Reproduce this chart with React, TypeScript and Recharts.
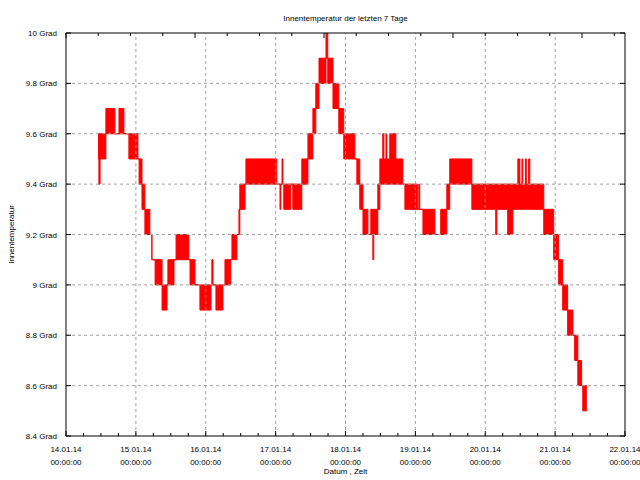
import { Area, ComposedChart, ReferenceLine, XAxis, YAxis } from "recharts";

const FONT = "'Liberation Sans', Arial, sans-serif";

// hours since 14.01.14 00:00:00 where each reading segment starts
const startHours = [
  11.0, 11.3, 11.7, 13.7, 16.8, 18.2, 19.9, 21.6, 24.7, 25.1, 26.1, 27.1, 28.8,
  29.5, 30.6, 33.0, 34.7, 35.0, 37.1, 37.8, 42.2, 42.6, 44.3, 46.0, 49.8, 50.1,
  50.5, 51.5, 53.9, 54.6, 56.6, 57.0, 58.7, 59.4, 59.7, 61.5, 61.8, 72.4, 73.5,
  73.8, 74.2, 74.5, 74.8, 77.2, 77.9, 81.0, 83.1, 84.8, 85.8, 86.9, 89.3, 89.9,
  91.7, 93.7, 95.4, 99.2, 99.9, 100.9, 102.0, 103.7, 104.7, 105.4, 105.7, 107.1,
  107.8, 108.8, 109.2, 109.9, 110.2, 111.2, 113.3, 115.7, 116.4, 120.8, 121.2,
  121.5, 122.6, 126.7, 128.7, 130.8, 131.8, 139.4, 147.6, 148.0, 151.7, 153.5,
  155.2, 155.9, 156.6, 156.9, 157.8, 158.1, 158.9, 159.3, 164.1, 167.5, 169.2,
  170.6, 172.3, 174.1, 174.7, 175.8, 177.1, 177.5, 178.9,
];
// lowest / highest reading in each segment (Grad)
const lows = [
  9.5, 9.4, 9.5, 9.6, 9.6, 9.6, 9.6, 9.5, 9.5, 9.4, 9.3, 9.2, 9.2,
  9.1, 9.0, 8.9, 9.0, 9.0, 9.1, 9.1, 9.1, 9.0, 9.0, 8.9, 9.0, 9.0,
  9.0, 8.9, 9.0, 9.0, 9.1, 9.1, 9.2, 9.2, 9.3, 9.4, 9.4, 9.4, 9.3,
  9.4, 9.4, 9.4, 9.3, 9.4, 9.3, 9.4, 9.5, 9.6, 9.7, 9.8, 9.9, 9.8,
  9.7, 9.6, 9.5, 9.5, 9.4, 9.3, 9.2, 9.2, 9.2, 9.1, 9.2, 9.3,
  9.4, 9.4, 9.4, 9.4, 9.4, 9.4, 9.4, 9.4, 9.3, 9.3, 9.3,
  9.3, 9.2, 9.2, 9.2, 9.3, 9.4, 9.3, 9.2, 9.3, 9.2, 9.3,
  9.3, 9.3, 9.3, 9.3, 9.3, 9.3, 9.3, 9.3, 9.2, 9.1, 9.0,
  8.9, 8.8, 8.8, 8.7, 8.6, 8.6, 8.5, 8.5,
];
const highs = [
  9.6, 9.6, 9.6, 9.7, 9.6, 9.7, 9.6, 9.6, 9.5, 9.5, 9.4, 9.3, 9.2,
  9.1, 9.1, 9.0, 9.0, 9.1, 9.1, 9.2, 9.1, 9.1, 9.0, 9.0, 9.0, 9.1,
  9.0, 9.0, 9.0, 9.1, 9.1, 9.2, 9.2, 9.3, 9.4, 9.4, 9.5, 9.4, 9.4,
  9.4, 9.5, 9.4, 9.4, 9.4, 9.4, 9.5, 9.6, 9.7, 9.8, 9.9, 10.0, 9.9,
  9.8, 9.7, 9.6, 9.5, 9.5, 9.4, 9.3, 9.2, 9.3, 9.3, 9.3, 9.4,
  9.5, 9.6, 9.5, 9.6, 9.5, 9.6, 9.5, 9.4, 9.4, 9.3, 9.4,
  9.3, 9.3, 9.2, 9.3, 9.4, 9.5, 9.4, 9.4, 9.4, 9.4, 9.4,
  9.5, 9.4, 9.5, 9.4, 9.5, 9.4, 9.5, 9.4, 9.3, 9.2, 9.1,
  9.0, 8.9, 8.8, 8.8, 8.7, 8.6, 8.6, 8.6,
];

const hourTicks = [
  0, 6, 12, 18, 24, 30, 36, 42, 48, 54, 60, 66, 72, 78, 84, 90, 96, 102, 108,
  114, 120, 126, 132, 138, 144, 150, 156, 162, 168, 174, 180, 186, 192,
];
const dayTicks = [0, 24, 48, 72, 96, 120, 144, 168, 192];
const dayLabels = [
  "14.01.14", "15.01.14", "16.01.14", "17.01.14", "18.01.14",
  "19.01.14", "20.01.14", "21.01.14", "22.01.14",
];
const tempTicks = [8.4, 8.6, 8.8, 9, 9.2, 9.4, 9.6, 9.8, 10];

const data = startHours.map((t, i) => ({ t, range: [lows[i], highs[i]] }));

const txt = { fontFamily: FONT, fontSize: 8, fill: "#000" };

const BottomTick = ({ x, y, payload }: any) => {
  const idx = dayTicks.indexOf(payload.value);
  return (
    <g>
      <line x1={x} x2={x} y1={y} y2={y - (idx >= 0 ? 5 : 3)} stroke="#000" />
      {idx >= 0 && (
        <>
          <text x={x} y={y + 16} textAnchor="middle" style={txt}>
            {dayLabels[idx]}
          </text>
          <text x={x} y={y + 28.5} textAnchor="middle" style={txt}>
            00:00:00
          </text>
        </>
      )}
    </g>
  );
};

const TopTick = ({ x, y, payload }: any) => {
  const isDay = dayTicks.includes(payload.value);
  return <line x1={x} x2={x} y1={y} y2={y + (isDay ? 5 : 3)} stroke="#000" />;
};

const LeftTick = ({ x, y, payload }: any) => (
  <g>
    <line x1={x} x2={x + 5} y1={y} y2={y} stroke="#000" />
    <text x={x - 9} y={y + 3} textAnchor="end" style={txt}>
      {`${payload.value} Grad`}
    </text>
  </g>
);

const RightTick = ({ x, y }: any) => (
  <line x1={x} x2={x - 5} y1={y} y2={y} stroke="#000" />
);

export default function App() {
  return (
    <div style={{ position: "absolute", left: 0, top: 0, width: 640, height: 480, background: "#fff" }}>
      <ComposedChart
        width={640}
        height={480}
        data={data}
        margin={{ top: 0, right: 0, bottom: 0, left: 0 }}
      >
        <XAxis
          xAxisId="bottom"
          dataKey="t"
          type="number"
          domain={[0, 192]}
          allowDataOverflow
          ticks={hourTicks}
          interval={0}
          height={44}
          tickSize={0}
          tickMargin={0}
          tickLine={false}
          axisLine={{ stroke: "#000" }}
          tick={(p: any) => <BottomTick {...p} />}
          label={{
            content: ({ viewBox }: any) => (
              <text x={viewBox.x + viewBox.width / 2} y={474} textAnchor="middle" style={txt}>
                Datum , Zeit
              </text>
            ),
          }}
        />
        <XAxis
          xAxisId="top"
          orientation="top"
          type="number"
          domain={[0, 192]}
          allowDataOverflow
          ticks={hourTicks}
          interval={0}
          height={33}
          tickSize={0}
          tickMargin={0}
          tickLine={false}
          axisLine={{ stroke: "#000" }}
          tick={(p: any) => <TopTick {...p} />}
          label={{
            content: ({ viewBox }: any) => (
              <text x={viewBox.x + viewBox.width / 2} y={21} textAnchor="middle" style={txt}>
                Innentemperatur der letzten 7 Tage
              </text>
            ),
          }}
        />
        <YAxis
          yAxisId="left"
          type="number"
          domain={[8.4, 10]}
          allowDataOverflow
          ticks={tempTicks}
          interval={0}
          width={66}
          tickSize={0}
          tickMargin={0}
          tickLine={false}
          axisLine={{ stroke: "#000" }}
          tick={(p: any) => <LeftTick {...p} />}
          label={{
            content: ({ viewBox }: any) => {
              const cy = viewBox.y + viewBox.height / 2;
              return (
                <text x={14} y={cy} textAnchor="middle" transform={`rotate(-90 14 ${cy})`} style={txt}>
                  Innentemperatur
                </text>
              );
            },
          }}
        />
        <YAxis
          yAxisId="right"
          orientation="right"
          type="number"
          domain={[8.4, 10]}
          allowDataOverflow
          ticks={tempTicks}
          interval={0}
          width={15}
          tickSize={0}
          tickMargin={0}
          tickLine={false}
          axisLine={{ stroke: "#000" }}
          tick={(p: any) => <RightTick {...p} />}
        />
        {dayTicks.slice(1, -1).map((d) => (
          <ReferenceLine
            key={`gx-${d}`}
            xAxisId="bottom"
            yAxisId="left"
            x={d}
            stroke="#a0a0a0"
            strokeDasharray="3 3"
          />
        ))}
        {tempTicks.slice(1, -1).map((v) => (
          <ReferenceLine
            key={`gy-${v}`}
            xAxisId="bottom"
            yAxisId="left"
            y={v}
            stroke="#a0a0a0"
            strokeDasharray="3 3"
          />
        ))}
        <Area
          xAxisId="bottom"
          yAxisId="left"
          dataKey="range"
          type="stepAfter"
          stroke="#ff0000"
          strokeWidth={1}
          fill="#ff0000"
          fillOpacity={1}
          dot={false}
          activeDot={false}
          isAnimationActive={false}
        />
      </ComposedChart>
    </div>
  );
}
